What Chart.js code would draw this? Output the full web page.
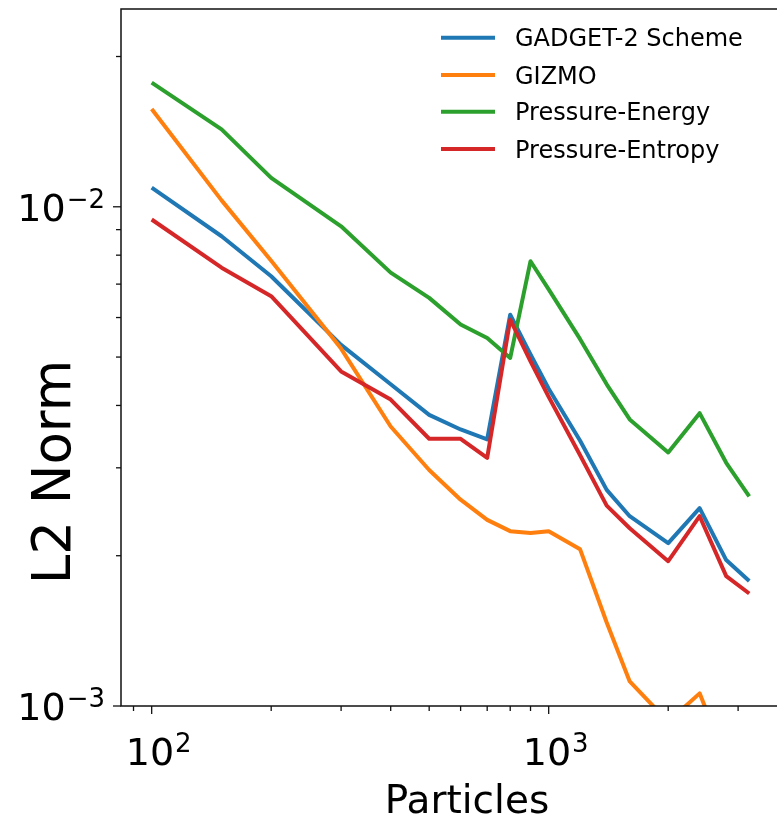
<!DOCTYPE html>
<html>
<head>
<meta charset="utf-8">
<script src="https://cdn.jsdelivr.net/npm/chart.js@4.4.0/dist/chart.umd.min.js"></script>
<style>
  html, body { margin: 0; padding: 0; background: #fff; overflow: hidden; }
  #wrap { width: 782px; height: 820px; }
</style>
</head>
<body>
<div id="wrap"><canvas id="chart" width="782" height="820"></canvas></div>
<script>
// ---------- Data ----------
const particles = [100, 150, 200, 300, 400, 500, 600, 700, 800, 900, 1000, 1200, 1400, 1600, 2000, 2400, 2800, 3200];

const gadget2  = [0.01092, 0.00873, 0.00726, 0.00529, 0.00441, 0.00383, 0.00358, 0.00342, 0.00608, 0.00506, 0.00432, 0.00340, 0.00271, 0.00240, 0.00212, 0.00249, 0.00196, 0.00178];
const gizmo    = [0.01570, 0.01030, 0.00780, 0.00520, 0.00363, 0.00297, 0.00259, 0.00236, 0.00224, 0.00222, 0.00224, 0.00206, 0.00147, 0.00112, 0.00093, 0.00106, 0.00078, 0.00070];
const pEnergy  = [0.01773, 0.01429, 0.01143, 0.00914, 0.00738, 0.00657, 0.00581, 0.00546, 0.00498, 0.00778, 0.00683, 0.00543, 0.00441, 0.00375, 0.00322, 0.00386, 0.00307, 0.00263];
const pEntropy = [0.00943, 0.00755, 0.00662, 0.00468, 0.00411, 0.00343, 0.00343, 0.00314, 0.00594, 0.00490, 0.00416, 0.00318, 0.00252, 0.00227, 0.00195, 0.00240, 0.00182, 0.00168];

const seriesNames  = ["GADGET-2 Scheme", "GIZMO", "Pressure-Energy", "Pressure-Entropy"];
const seriesColors = ["#1f77b4", "#ff7f0e", "#2ca02c", "#d62728"];

// axis limits + decade ticks
const X_MIN = 83.7, X_MAX = 3803;
const Y_MIN = 0.001, Y_MAX = 0.0249;
const xMajorTicks = [100, 1000];
const yMajorTicks = [0.001, 0.01];

const FONT = "'DejaVu Sans', sans-serif";

// ---------- Helpers ----------
function minorTicks(lo, hi) {
  const out = [];
  for (let e = Math.floor(Math.log10(lo)); e <= Math.ceil(Math.log10(hi)); e++) {
    for (let m = 2; m <= 9; m++) {
      const v = m * Math.pow(10, e);
      if (v >= lo && v <= hi) out.push(v);
    }
  }
  return out;
}

function drawPow(ctx, exp, x, baseline, align) {
  // "10" with superscript exponent, like mathtext
  const big = "10", sup = exp < 0 ? "\u2212" + Math.abs(exp) : String(exp);
  ctx.font = "38px " + FONT;
  const wBig = ctx.measureText(big).width;
  ctx.font = "26px " + FONT;
  const wSup = ctx.measureText(sup).width;
  const total = wBig + wSup + 1;
  let left = align === "right" ? x - total : x - total / 2;
  ctx.textAlign = "left";
  ctx.textBaseline = "alphabetic";
  ctx.font = "38px " + FONT;
  ctx.fillText(big, left, baseline);
  ctx.font = "26px " + FONT;
  ctx.fillText(sup, left + wBig + 1, baseline - 13);
}

// ---------- Frame, ticks, labels, legend ----------
const decorPlugin = {
  id: "decor",
  afterDatasetsDraw(chart) {
    const { ctx, chartArea: a, scales } = chart;
    const xs = scales.x, ys = scales.y;
    ctx.save();
    ctx.strokeStyle = "#111";
    ctx.fillStyle = "#000";

    // frame
    ctx.lineWidth = 1.5;
    ctx.strokeRect(a.left, a.top, a.right - a.left, a.bottom - a.top);

    // tick marks
    ctx.lineWidth = 1.3;
    const tick = (px, len, horiz) => {
      ctx.beginPath();
      if (horiz) { ctx.moveTo(a.left - len, px); ctx.lineTo(a.left, px); }
      else { ctx.moveTo(px, a.bottom); ctx.lineTo(px, a.bottom + len); }
      ctx.stroke();
    };
    xMajorTicks.forEach(v => tick(xs.getPixelForValue(v), 8, false));
    minorTicks(X_MIN, X_MAX).forEach(v => tick(xs.getPixelForValue(v), 5, false));
    yMajorTicks.forEach(v => tick(ys.getPixelForValue(v), 8, true));
    minorTicks(Y_MIN, Y_MAX).forEach(v => tick(ys.getPixelForValue(v), 5, true));

    // tick labels
    xMajorTicks.forEach(v => drawPow(ctx, Math.round(Math.log10(v)), xs.getPixelForValue(v) + 7, a.bottom + 59, "center"));
    yMajorTicks.forEach(v => drawPow(ctx, Math.round(Math.log10(v)), a.left - 16, ys.getPixelForValue(v) + 14, "right"));

    // axis titles
    ctx.font = "39px " + FONT;
    ctx.textAlign = "center";
    ctx.textBaseline = "alphabetic";
    ctx.fillText("Particles", 467, 813);
    ctx.save();
    ctx.translate(70, 472);
    ctx.rotate(-Math.PI / 2);
    ctx.font = "53px " + FONT;
    ctx.fillText("L2 Norm", 0, 0);
    ctx.restore();

    // legend
    const rowY = [37.7, 75, 111.7, 149];
    ctx.font = "24px " + FONT;
    ctx.textAlign = "left";
    seriesNames.forEach((name, i) => {
      ctx.strokeStyle = seriesColors[i];
      ctx.lineWidth = 4;
      ctx.beginPath();
      ctx.moveTo(441, rowY[i]);
      ctx.lineTo(495, rowY[i]);
      ctx.stroke();
      ctx.fillStyle = "#000";
      ctx.fillText(name, 515, rowY[i] + 8.7);
    });
    ctx.restore();
  }
};

// ---------- Chart ----------
const allSeries = [gadget2, gizmo, pEnergy, pEntropy];
const drawOrder = [3, 2, 1, 0]; // last series on top, as in the original

new Chart(document.getElementById("chart").getContext("2d"), {
  type: "line",
  data: {
    labels: particles,
    datasets: allSeries.map((vals, i) => ({
      label: seriesNames[i],
      data: particles.map((p, j) => ({ x: p, y: vals[j] })),
      borderColor: seriesColors[i],
      backgroundColor: seriesColors[i],
      borderWidth: 4,
      borderJoinStyle: "round",
      pointRadius: 0,
      tension: 0,
      fill: false,
      clip: 0,
      order: drawOrder[i]
    }))
  },
  options: {
    responsive: false,
    animation: false,
    events: [],
    layout: { padding: { left: 121, top: 9, right: 3, bottom: 114 } },
    plugins: { legend: { display: false }, tooltip: { enabled: false } },
    scales: {
      x: { type: "logarithmic", min: X_MIN, max: X_MAX, display: false },
      y: { type: "logarithmic", min: Y_MIN, max: Y_MAX, display: false }
    }
  },
  plugins: [decorPlugin]
});
</script>
</body>
</html>
